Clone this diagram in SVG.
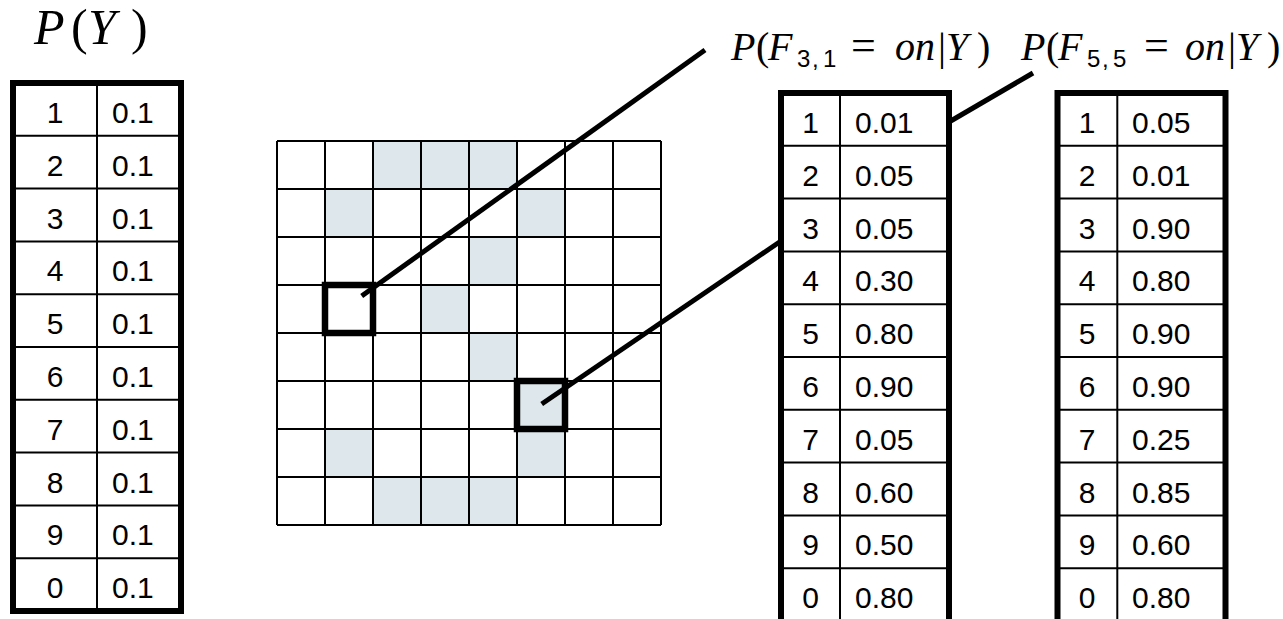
<svg xmlns="http://www.w3.org/2000/svg" width="1283" height="619" viewBox="0 0 1283 619">
<style>
.bg{fill:#ffffff}
.shade{fill:#dde7ec}
.gl{stroke:#000;stroke-width:2;fill:none}
.outer{fill:none;stroke:#000;stroke-width:6}
.hl{fill:none;stroke:#000;stroke-width:6.5}
.conn{stroke:#000;stroke-width:5;stroke-linecap:butt;fill:none}
.tt{font-family:"Liberation Sans",Arial,sans-serif;font-size:30px;fill:#000}
.mi{font-family:"Liberation Serif","Times New Roman",serif;font-style:italic;fill:#000}
.mr{font-family:"Liberation Serif","Times New Roman",serif;fill:#000}
.ms{font-family:"Liberation Sans",Arial,sans-serif;fill:#000}
</style>
<rect class="bg" x="0" y="0" width="1283" height="619"/>

<g id="title-py">
<text y="44" font-size="50"><tspan class="mi" x="34">P</tspan><tspan class="mr" x="71">(</tspan><tspan class="mi" x="88">Y</tspan><tspan class="mr" x="131">)</tspan></text>
</g>

<g id="table-prior">
<rect x="13" y="83" width="168" height="528" fill="#fff"/>
<g class="gl">
<line x1="97" y1="83" x2="97" y2="611"/>
<line x1="13" y1="135.8" x2="181" y2="135.8"/>
<line x1="13" y1="188.6" x2="181" y2="188.6"/>
<line x1="13" y1="241.4" x2="181" y2="241.4"/>
<line x1="13" y1="294.2" x2="181" y2="294.2"/>
<line x1="13" y1="347" x2="181" y2="347"/>
<line x1="13" y1="399.8" x2="181" y2="399.8"/>
<line x1="13" y1="452.6" x2="181" y2="452.6"/>
<line x1="13" y1="505.4" x2="181" y2="505.4"/>
<line x1="13" y1="558.2" x2="181" y2="558.2"/>
</g>
<rect class="outer" x="13" y="83" width="168" height="528"/>
<g class="tt">
<text x="55" y="123" text-anchor="middle">1</text><text x="112" y="123">0.1</text>
<text x="55" y="175.8" text-anchor="middle">2</text><text x="112" y="175.8">0.1</text>
<text x="55" y="228.6" text-anchor="middle">3</text><text x="112" y="228.6">0.1</text>
<text x="55" y="281.4" text-anchor="middle">4</text><text x="112" y="281.4">0.1</text>
<text x="55" y="334.2" text-anchor="middle">5</text><text x="112" y="334.2">0.1</text>
<text x="55" y="387" text-anchor="middle">6</text><text x="112" y="387">0.1</text>
<text x="55" y="439.8" text-anchor="middle">7</text><text x="112" y="439.8">0.1</text>
<text x="55" y="492.6" text-anchor="middle">8</text><text x="112" y="492.6">0.1</text>
<text x="55" y="545.4" text-anchor="middle">9</text><text x="112" y="545.4">0.1</text>
<text x="55" y="598.2" text-anchor="middle">0</text><text x="112" y="598.2">0.1</text>
</g>
</g>

<g id="pixel-grid">
<rect x="277" y="141" width="384" height="384" fill="#fff"/>
<g class="shade">
<rect x="373" y="141" width="144" height="48"/>
<rect x="325" y="189" width="48" height="48"/>
<rect x="517" y="189" width="48" height="48"/>
<rect x="469" y="237" width="48" height="48"/>
<rect x="421" y="285" width="48" height="48"/>
<rect x="469" y="333" width="48" height="48"/>
<rect x="517" y="381" width="48" height="48"/>
<rect x="325" y="429" width="48" height="48"/>
<rect x="517" y="429" width="48" height="48"/>
<rect x="373" y="477" width="144" height="48"/>
</g>
<g class="gl">
<line x1="277" y1="141" x2="277" y2="525"/>
<line x1="325" y1="141" x2="325" y2="525"/>
<line x1="373" y1="141" x2="373" y2="525"/>
<line x1="421" y1="141" x2="421" y2="525"/>
<line x1="469" y1="141" x2="469" y2="525"/>
<line x1="517" y1="141" x2="517" y2="525"/>
<line x1="565" y1="141" x2="565" y2="525"/>
<line x1="613" y1="141" x2="613" y2="525"/>
<line x1="661" y1="141" x2="661" y2="525"/>
<line x1="277" y1="141" x2="661" y2="141"/>
<line x1="277" y1="189" x2="661" y2="189"/>
<line x1="277" y1="237" x2="661" y2="237"/>
<line x1="277" y1="285" x2="661" y2="285"/>
<line x1="277" y1="333" x2="661" y2="333"/>
<line x1="277" y1="381" x2="661" y2="381"/>
<line x1="277" y1="429" x2="661" y2="429"/>
<line x1="277" y1="477" x2="661" y2="477"/>
<line x1="277" y1="525" x2="661" y2="525"/>
</g>
</g>

<g id="pixel-f31"><rect class="hl" x="325" y="285" width="48" height="48"/></g>
<g id="pixel-f55"><rect class="hl" x="517" y="381" width="48" height="48"/></g>

<g id="connectors">
<line class="conn" x1="361.7" y1="296" x2="705" y2="50"/>
<line class="conn" x1="541.7" y1="404" x2="781" y2="241"/>
<line class="conn" x1="949" y1="122" x2="1033" y2="73"/>
</g>

<g id="label-f31">
<text y="60" font-size="40"><tspan class="mi" x="731">P</tspan><tspan class="mr" x="756">(</tspan><tspan class="mi" x="768">F</tspan><tspan class="mr" x="851" font-size="44">=</tspan><tspan class="mi" x="895">on</tspan><tspan class="mr" x="938">|</tspan><tspan class="mi" x="946">Y</tspan><tspan class="mr" x="977">)</tspan></text>
<text y="67" font-size="24" class="ms"><tspan x="797">3</tspan><tspan x="812">,</tspan><tspan x="823">1</tspan></text>
</g>

<g id="label-f55">
<text y="60" font-size="40"><tspan class="mi" x="1021">P</tspan><tspan class="mr" x="1046">(</tspan><tspan class="mi" x="1058">F</tspan><tspan class="mr" x="1144" font-size="44">=</tspan><tspan class="mi" x="1185">on</tspan><tspan class="mr" x="1228">|</tspan><tspan class="mi" x="1236">Y</tspan><tspan class="mr" x="1267">)</tspan></text>
<text y="67" font-size="24" class="ms"><tspan x="1087">5</tspan><tspan x="1102">,</tspan><tspan x="1113">5</tspan></text>
</g>

<g id="table-f31">
<rect x="781" y="93" width="168" height="540" fill="#fff"/>
<g class="gl">
<line x1="840" y1="93" x2="840" y2="633"/>
<line x1="781" y1="145.8" x2="949" y2="145.8"/>
<line x1="781" y1="198.6" x2="949" y2="198.6"/>
<line x1="781" y1="251.4" x2="949" y2="251.4"/>
<line x1="781" y1="304.2" x2="949" y2="304.2"/>
<line x1="781" y1="357" x2="949" y2="357"/>
<line x1="781" y1="409.8" x2="949" y2="409.8"/>
<line x1="781" y1="462.6" x2="949" y2="462.6"/>
<line x1="781" y1="515.4" x2="949" y2="515.4"/>
<line x1="781" y1="568.2" x2="949" y2="568.2"/>
</g>
<path class="outer" d="M781 633 V93 H949 V633"/>
<g class="tt">
<text x="810.5" y="133" text-anchor="middle">1</text><text x="855" y="133">0.01</text>
<text x="810.5" y="185.8" text-anchor="middle">2</text><text x="855" y="185.8">0.05</text>
<text x="810.5" y="238.6" text-anchor="middle">3</text><text x="855" y="238.6">0.05</text>
<text x="810.5" y="291.4" text-anchor="middle">4</text><text x="855" y="291.4">0.30</text>
<text x="810.5" y="344.2" text-anchor="middle">5</text><text x="855" y="344.2">0.80</text>
<text x="810.5" y="397" text-anchor="middle">6</text><text x="855" y="397">0.90</text>
<text x="810.5" y="449.8" text-anchor="middle">7</text><text x="855" y="449.8">0.05</text>
<text x="810.5" y="502.6" text-anchor="middle">8</text><text x="855" y="502.6">0.60</text>
<text x="810.5" y="555.4" text-anchor="middle">9</text><text x="855" y="555.4">0.50</text>
<text x="810.5" y="608.2" text-anchor="middle">0</text><text x="855" y="608.2">0.80</text>
</g>
</g>

<g id="table-f55">
<rect x="1057.5" y="93" width="168" height="540" fill="#fff"/>
<g class="gl">
<line x1="1117.3" y1="93" x2="1117.3" y2="633"/>
<line x1="1057.5" y1="145.8" x2="1225.5" y2="145.8"/>
<line x1="1057.5" y1="198.6" x2="1225.5" y2="198.6"/>
<line x1="1057.5" y1="251.4" x2="1225.5" y2="251.4"/>
<line x1="1057.5" y1="304.2" x2="1225.5" y2="304.2"/>
<line x1="1057.5" y1="357" x2="1225.5" y2="357"/>
<line x1="1057.5" y1="409.8" x2="1225.5" y2="409.8"/>
<line x1="1057.5" y1="462.6" x2="1225.5" y2="462.6"/>
<line x1="1057.5" y1="515.4" x2="1225.5" y2="515.4"/>
<line x1="1057.5" y1="568.2" x2="1225.5" y2="568.2"/>
</g>
<path class="outer" d="M1057.5 633 V93 H1225.5 V633"/>
<g class="tt">
<text x="1087" y="133" text-anchor="middle">1</text><text x="1132" y="133">0.05</text>
<text x="1087" y="185.8" text-anchor="middle">2</text><text x="1132" y="185.8">0.01</text>
<text x="1087" y="238.6" text-anchor="middle">3</text><text x="1132" y="238.6">0.90</text>
<text x="1087" y="291.4" text-anchor="middle">4</text><text x="1132" y="291.4">0.80</text>
<text x="1087" y="344.2" text-anchor="middle">5</text><text x="1132" y="344.2">0.90</text>
<text x="1087" y="397" text-anchor="middle">6</text><text x="1132" y="397">0.90</text>
<text x="1087" y="449.8" text-anchor="middle">7</text><text x="1132" y="449.8">0.25</text>
<text x="1087" y="502.6" text-anchor="middle">8</text><text x="1132" y="502.6">0.85</text>
<text x="1087" y="555.4" text-anchor="middle">9</text><text x="1132" y="555.4">0.60</text>
<text x="1087" y="608.2" text-anchor="middle">0</text><text x="1132" y="608.2">0.80</text>
</g>
</g>
</svg>
